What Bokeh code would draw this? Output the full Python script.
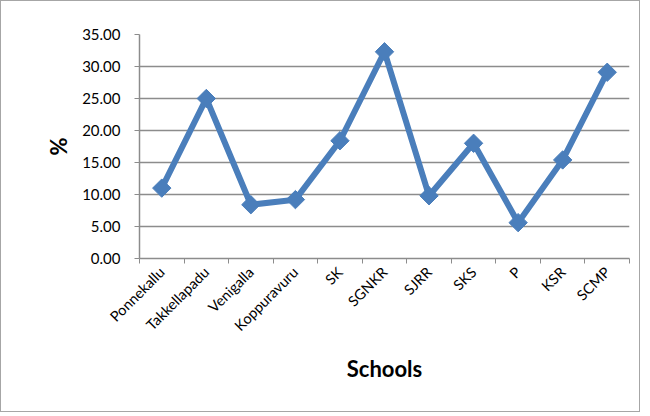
import math
from bokeh.plotting import figure
from bokeh.models import Range1d, FixedTicker, NumeralTickFormatter, ColumnDataSource
from bokeh.embed import file_html
from bokeh.resources import INLINE

schools = ["Ponnekallu", "Takkellapadu", "Venigalla", "Koppuravuru", "SK", "SGNKR",
           "SJRR", "SKS", "P", "KSR", "SCMP"]
percent = [11.0, 25.0, 8.4, 9.2, 18.4, 32.3, 9.8, 18.0, 5.6, 15.4, 29.1]
y_ticks = [0, 5, 10, 15, 20, 25, 30, 35]

idx = list(range(len(schools)))
src = ColumnDataSource(dict(x=idx, y=percent, name=schools))

FONT = "Lato"
GRID = "#8c8c8c"
BLUE = "#4a7ebb"

p = figure(width=640, height=412, output_backend="svg", toolbar_location=None,
           x_range=Range1d(-0.5, len(schools) - 0.5), y_range=Range1d(0, 35),
           min_border_left=138, min_border_right=12, min_border_top=33, min_border_bottom=155)
p.outline_line_color = None
p.border_fill_color = "white"

p.line("x", "y", source=src, line_color=BLUE, line_width=6, line_join="miter")
p.scatter("x", "y", source=src, marker="square", size=13, angle=math.pi / 4,
          fill_color=BLUE, line_color=BLUE)

# x axis
xa = p.xaxis[0]
xa.ticker = FixedTicker(ticks=idx, minor_ticks=[i - 0.5 for i in range(len(schools) + 1)])
xa.major_label_overrides = {i: s for i, s in enumerate(schools)}
xa.major_label_orientation = math.pi / 4
xa.major_tick_out = 0
xa.major_tick_in = 0
xa.minor_tick_out = 5
xa.minor_tick_in = 0
xa.minor_tick_line_color = GRID
xa.axis_line_color = GRID
xa.axis_line_width = 1.5
xa.major_label_text_font = FONT
xa.major_label_text_font_size = "14.5px"
xa.major_label_text_color = "black"
xa.major_label_standoff = 6
xa.axis_label = "Schools"
xa.axis_label_text_font = FONT
xa.axis_label_text_font_style = "bold"
xa.axis_label_text_font_size = "22px"
xa.axis_label_text_color = "black"
xa.axis_label_standoff = 12

# y axis
ya = p.yaxis[0]
ya.ticker = FixedTicker(ticks=y_ticks)
ya.formatter = NumeralTickFormatter(format="0.00")
ya.major_tick_out = 5
ya.major_tick_in = 0
ya.minor_tick_out = 0
ya.minor_tick_in = 0
ya.major_tick_line_color = GRID
ya.axis_line_color = GRID
ya.axis_line_width = 1.5
ya.major_label_text_font = FONT
ya.major_label_text_font_size = "15px"
ya.major_label_text_color = "black"
ya.major_label_standoff = 14
ya.axis_label = "%"
ya.axis_label_text_font = FONT
ya.axis_label_text_font_style = "bold"
ya.axis_label_text_font_size = "22px"
ya.axis_label_text_color = "black"
ya.axis_label_standoff = 7

p.xgrid.grid_line_color = None
p.ygrid.grid_line_color = GRID
p.ygrid.grid_line_width = 1.5

p.styles = {"border": "1.5px solid #a6a6a6"}

open("out.html", "w").write(file_html(p, INLINE))
